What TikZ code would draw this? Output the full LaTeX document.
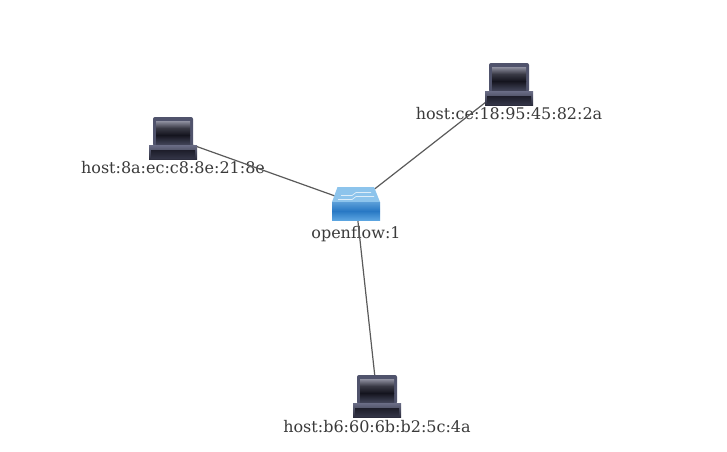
\documentclass[tikz,border=0pt]{standalone}
\usepackage{xcolor}
\usepackage{fontspec}
\setmainfont{DejaVu Serif}
\usetikzlibrary{
  positioning,
  backgrounds
}
\definecolor{odEdge}{HTML}{5A5A5A}
\definecolor{odText}{HTML}{3A3A3A}
\definecolor{odFrame}{HTML}{50536C}
\definecolor{odDark}{HTML}{14141E}
\definecolor{odGlass}{HTML}{8F90A0}
\definecolor{odBase}{HTML}{6A6D86}
\definecolor{odSwTop}{HTML}{8DC4EC}
\definecolor{odSwMid}{HTML}{2878C4}
\definecolor{odSwLow}{HTML}{5BA4E0}
\tikzset{
  hostnode/.style={
    minimum width=48pt, minimum height=42pt, inner sep=0pt,
    path picture={
      \begin{scope}[shift={(path picture bounding box.center)}]
        \fill[odFrame, rounded corners=2pt] (-20,8) -- (-20,-21) -- (20,-21) -- (20,8) -- cycle;
        \shade[top color=odGlass, bottom color=odDark, middle color=odDark!70!odGlass] (-17,-17) rectangle (17,-3);
        \shade[top color=odDark, bottom color=odFrame!80!black] (-17,-3) rectangle (17,6);
        \shade[top color=odBase, bottom color=odDark!60!odFrame] (-24,7) rectangle (24,21);
        \shade[top color=odDark!85!odFrame, bottom color=odDark!50!odFrame] (-22,12) rectangle (22,20);
      \end{scope}
    }
  },
  switchnode/.style={
    minimum width=48pt, minimum height=33pt, inner sep=0pt,
    path picture={
      \begin{scope}[shift={(path picture bounding box.center)}]
        \fill[odSwTop] (-18.5,-16.5) -- (18,-16.5) -- (24,-1.5) -- (-24,-1.5) -- cycle;
        \shade[top color=odSwTop!50!odSwMid, bottom color=odSwLow, middle color=odSwMid] (-24,-1.5) rectangle (24,16.5);
        \draw[white!70!odSwTop, line width=0.7pt] (-15,-8) -- (-4,-8) -- (0,-11) -- (15,-11);
        \draw[white!70!odSwTop, line width=0.7pt] (-18,-4) -- (-4,-4) -- (0,-7) -- (18,-7);
      \end{scope}
    }
  },
  nodelabel/.style={font=\fontsize{16pt}{19pt}\selectfont, text=odText, inner sep=0pt},
  edgeline/.style={line width=1.2pt, odEdge}
}
\begin{document}
\begin{tikzpicture}[x=1pt, y=-1pt, node distance=2pt]
  \useasboundingbox (0,0) rectangle (727,451);
  \node[switchnode] (sw) at (356,203.5) {};
  \node[hostnode] (h1) at (173,138) {};
  \node[hostnode] (h2) at (509,84) {};
  \node[hostnode] (h3) at (377,396) {};
  \begin{scope}[on background layer]
    \node[nodelabel, below=6pt of sw] (swlabel) {openflow:1};
    \node[nodelabel, below=of h1] (h1label) {host:8a:ec:c8:8e:21:8e};
    \node[nodelabel, below=of h2] (h2label) {host:ce:18:95:45:82:2a};
    \node[nodelabel, below=3pt of h3] (h3label) {host:b6:60:6b:b2:5c:4a};
    \foreach \h in {h1,h2,h3}{\draw[edgeline] (\h.center) -- (sw.center);}
  \end{scope}
\end{tikzpicture}
\end{document}
